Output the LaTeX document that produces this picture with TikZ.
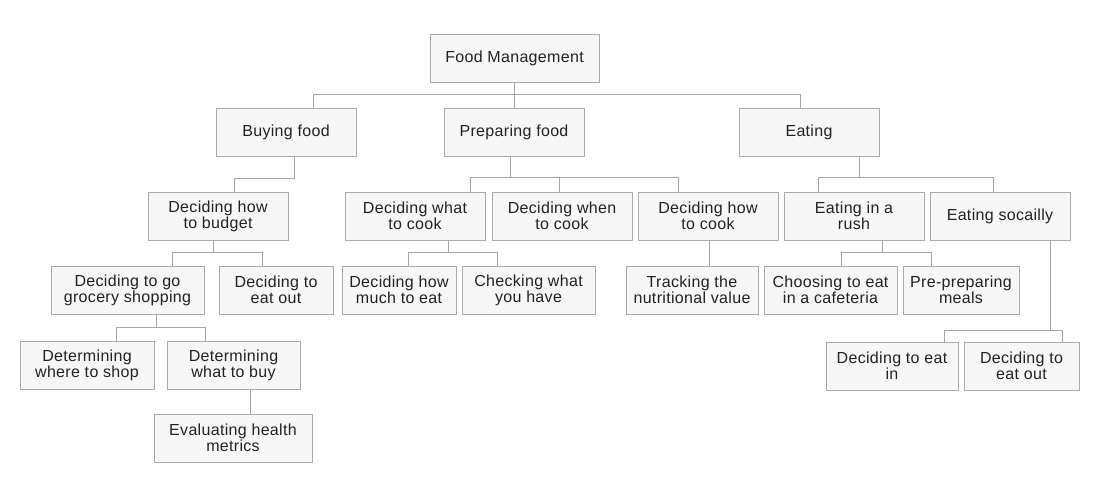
\documentclass[tikz,border=0pt]{standalone}
\usepackage{fontspec}
\setmainfont{Liberation Sans}[LetterSpace=2]
\definecolor{boxfill}{HTML}{F7F7F7}
\definecolor{boxline}{HTML}{ABABAB}
\definecolor{linkc}{HTML}{A6A6A6}
\definecolor{txt}{HTML}{222222}
\tikzset{
  box/.style={draw=boxline, fill=boxfill, line width=1pt, inner sep=0pt,
    minimum height=48pt, align=center, text=txt,
    font=\fontsize{16}{16}\selectfont},
  link/.style={draw=linkc, line width=1pt}
}
\begin{document}
\begin{tikzpicture}[x=1pt,y=-1pt]
\useasboundingbox (0,0) rectangle (1105,499);
\node[box,minimum width=169pt] (fm) at (514.5,58) {Food Management};
\node[box,minimum width=140pt] (buy) at (286,132) {Buying food};
\node[box,minimum width=140pt] (prep) at (514,132) {Preparing food};
\node[box,minimum width=140pt] (eat) at (809,132) {Eating};
\node[box,minimum width=140pt] (budget) at (218,216) {Deciding how\\to budget};
\node[box,minimum width=140pt] (whatcook) at (415,216) {Deciding what\\to cook};
\node[box,minimum width=140pt] (whencook) at (562,216) {Deciding when\\to cook};
\node[box,minimum width=140pt] (howcook) at (708,216) {Deciding how\\to cook};
\node[box,minimum width=140pt] (rush) at (854,216) {Eating in a\\rush};
\node[box,minimum width=140pt] (social) at (1000,216) {Eating socailly};
\node[box,minimum width=153pt] (grocery) at (127.5,290) {Deciding to go\\grocery shopping};
\node[box,minimum width=114pt] (eatout1) at (276,290) {Deciding to\\eat out};
\node[box,minimum width=114pt] (howmuch) at (399,290) {Deciding how\\much to eat};
\node[box,minimum width=133pt] (checking) at (528.5,290) {Checking what\\you have};
\node[box,minimum width=132pt] (tracking) at (692,290) {Tracking the\\nutritional value};
\node[box,minimum width=133pt] (cafe) at (830.5,290) {Choosing to eat\\in a cafeteria};
\node[box,minimum width=116pt] (premeal) at (961,290) {Pre-preparing\\meals};
\node[box,minimum width=134pt] (where) at (87,365) {Determining\\where to shop};
\node[box,minimum width=133pt] (whatbuy) at (233.5,365) {Determining\\what to buy};
\node[box,minimum width=132pt] (eatin) at (892,366) {Deciding to eat\\in};
\node[box,minimum width=115pt] (eatout2) at (1021.5,366) {Deciding to\\eat out};
\node[box,minimum width=158pt] (health) at (233,438) {Evaluating health\\metrics};
% level 1
\draw[link] (fm.south) -- ++(0,12) coordinate (b0);
\draw[link] (b0) -| ([xshift=27pt]buy.north);
\draw[link] (b0) -| (prep.north);
\draw[link] (b0) -| ([xshift=-9pt]eat.north);
% buying food
\draw[link] ([xshift=8pt]buy.south) -- ++(0,22) -| ([xshift=16pt]budget.north);
% preparing food
\draw[link] ([xshift=-4pt]prep.south) -- ++(0,21) coordinate (b1);
\draw[link] (b1) -| ([xshift=55pt]whatcook.north);
\draw[link] (b1) -| ([xshift=-3pt]whencook.north);
\draw[link] (b1) -| ([xshift=-30pt]howcook.north);
% eating
\draw[link] ([xshift=50pt]eat.south) -- ++(0,21) coordinate (b2);
\draw[link] (b2) -| ([xshift=-36pt]rush.north);
\draw[link] (b2) -| ([xshift=-7pt]social.north);
% budget
\draw[link] ([xshift=-5pt]budget.south) -- ++(0,12) coordinate (b3);
\draw[link] (b3) -| ([xshift=44.5pt]grocery.north);
\draw[link] (b3) -| ([xshift=-14pt]eatout1.north);
% what to cook
\draw[link] ([xshift=33pt]whatcook.south) -- ++(0,12) coordinate (b4);
\draw[link] (b4) -| ([xshift=9pt]howmuch.north);
\draw[link] (b4) -| ([xshift=-31.5pt]checking.north);
% how to cook
\draw[link] ([xshift=1pt]howcook.south) -- ([xshift=17pt]tracking.north);
% rush
\draw[link] ([xshift=28pt]rush.south) -- ++(0,12) coordinate (b5);
\draw[link] (b5) -| ([xshift=10.5pt]cafe.north);
\draw[link] (b5) -| ([xshift=-30pt]premeal.north);
% social
\draw[link] ([xshift=50pt]social.south) -- ++(0,90) coordinate (b6);
\draw[link] (b6) -| ([xshift=52pt]eatin.north);
\draw[link] (b6) -| ([xshift=40.5pt]eatout2.north);
% grocery
\draw[link] ([xshift=28.5pt]grocery.south) -- ++(0,13) coordinate (b7);
\draw[link] (b7) -| ([xshift=29pt]where.north);
\draw[link] (b7) -| ([xshift=-28.5pt]whatbuy.north);
% what to buy
\draw[link] ([xshift=16.5pt]whatbuy.south) -- ([xshift=17pt]health.north);
\end{tikzpicture}
\end{document}
